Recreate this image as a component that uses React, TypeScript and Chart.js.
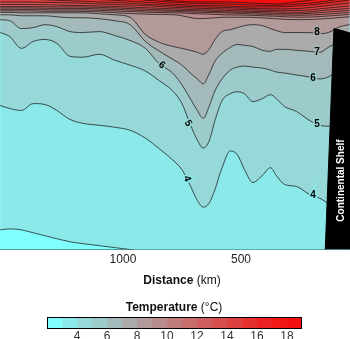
import React, { useEffect, useRef } from "react";
import { Chart, registerables } from "chart.js";

Chart.register(...registerables);

const FONT = "'Liberation Sans', Arial, Helvetica, sans-serif";

// ---- Section data: isotherm depths (m) against distance (km) ----
const distanceDetail = [1520, 1480, 1430, 1380, 1330, 1280, 1225, 1170, 1100, 1035, 970, 905, 845, 790, 750, 715, 685, 660, 635, 610, 580, 545, 515, 485, 450, 410, 375, 350, 315, 265, 210, 165, 130, 80, 40];
const isotherm3 = [2330, 2320, 2330, 2360, 2390, 2420, 2450, 2470, 2490, 2510, 2530, 2560, 2600, 2650, 2700, 2750, 2800, 2850, 2900, 2900, 2900, 2900, 2900, 2900, 2900, 2900, 2900, 2900, 2900, 2900, 2900, 2900, 2900, 2900, 2900];
const isotherm4 = [1070, 1100, 1120, 1050, 1060, 1120, 1210, 1250, 1270, 1290, 1320, 1400, 1510, 1620, 1720, 1880, 2030, 2100, 2060, 1920, 1700, 1530, 1570, 1720, 1850, 1780, 1700, 1780, 1870, 1890, 1970, 2010, 2060, 2080, 2100];
const isotherm5 = [330, 370, 490, 420, 400, 440, 570, 580, 550, 610, 660, 720, 820, 920, 1050, 1260, 1420, 1500, 1430, 1220, 1020, 950, 930, 950, 1030, 1000, 960, 1000, 1080, 1130, 1220, 1270, 1280, 1280, 1280];
const isotherm6 = [200, 210, 290, 280, 250, 270, 320, 330, 320, 360, 410, 490, 650, 740, 860, 1000, 1120, 1200, 1080, 920, 800, 710, 680, 670, 680, 690, 710, 730, 740, 760, 780, 800, 780, 710, 700];
const isotherm7 = [150, 150, 160, 160, 160, 170, 180, 180, 190, 210, 250, 420, 520, 600, 660, 740, 800, 850, 750, 620, 540, 480, 450, 460, 470, 510, 520, 500, 500, 510, 520, 530, 480, 420, 400];
const isotherm8 = [125, 125, 130, 130, 130, 130, 130, 130, 140, 150, 175, 350, 430, 470, 490, 510, 530, 550, 500, 400, 320, 300, 280, 260, 250, 260, 290, 310, 330, 330, 330, 340, 330, 270, 250];

const distanceTop = [1520, 1415, 1310, 1205, 1100, 990, 885, 780, 675, 570, 460, 355, 250, 145, 40];
const isotherm9 = [110, 110, 115, 115, 120, 135, 145, 150, 190, 175, 175, 190, 200, 190, 170];
const isotherm10 = [95, 95, 100, 100, 105, 115, 125, 130, 140, 150, 155, 165, 175, 165, 145];
const isotherm11 = [80, 80, 85, 85, 90, 100, 110, 115, 125, 130, 140, 150, 155, 145, 125];
const isotherm12 = [65, 65, 70, 70, 75, 85, 95, 105, 110, 120, 125, 135, 140, 125, 105];
const isotherm13 = [45, 45, 50, 55, 60, 70, 80, 90, 100, 105, 115, 120, 125, 105, 85];
const isotherm14 = [20, 20, 25, 30, 40, 50, 60, 75, 85, 90, 100, 105, 105, 85, 60];
const isotherm15 = [-10, -10, 0, 10, 20, 30, 45, 60, 70, 75, 85, 90, 85, 60, 30];
const isotherm16 = [-40, -40, -30, -20, -5, 10, 25, 45, 55, 60, 70, 70, 60, 35, 0];
const isotherm17 = [-70, -70, -60, -50, -30, -15, 5, 25, 35, 40, 50, 55, 40, 15, -25];
const isotherm18 = [-100, -90, -80, -70, -50, -40, -15, 10, 20, 20, 30, 40, 15, -15, -50];

const distanceTicks = [1000, 500];
const depthMax = 2530;

// continental shelf outline (top edge)
const shelfDistance = [144, 106, 88, 72, 38];
const shelfDepth = [2600, 290, 300, 310, 335];
const shelfText = "Continental Shelf";
const shelfTextDistance = 76;
const shelfTextDepth = 1830;

// contour labels
const contourLabelText = ["8", "7", "6", "5", "4", "6", "5", "4"];
const contourLabelDistance = [178, 178, 195, 178, 195, 835, 724, 729];
const contourLabelDepth = [330, 530, 790, 1260, 1980, 660, 1250, 1810];
const contourLabelAngle = [0, 0, 0, 0, 0, 35, 60, 70];

// colour scale
const tempCells = [2, 3, 4, 5, 6, 7, 8, 9, 10, 11, 12, 13, 14, 15, 16, 17, 18];
const tempTicks = [4, 6, 8, 10, 12, 14, 16, 18];
const bandColors = ["#80ffff", "#8ce9e9", "#96d9d9", "#9dcaca", "#a4baba", "#ababab", "#b39a9a", "#b98b8b", "#c07b7b", "#c86c6c", "#cf5d5d", "#d74e4e", "#de3f3f", "#e63030", "#ed2121", "#f21818", "#f51010"];

const isotherms = [
  { level: 3, dist: distanceDetail, depth: isotherm3 },
  { level: 4, dist: distanceDetail, depth: isotherm4 },
  { level: 5, dist: distanceDetail, depth: isotherm5 },
  { level: 6, dist: distanceDetail, depth: isotherm6 },
  { level: 7, dist: distanceDetail, depth: isotherm7 },
  { level: 8, dist: distanceDetail, depth: isotherm8 },
  { level: 9, dist: distanceTop, depth: isotherm9 },
  { level: 10, dist: distanceTop, depth: isotherm10 },
  { level: 11, dist: distanceTop, depth: isotherm11 },
  { level: 12, dist: distanceTop, depth: isotherm12 },
  { level: 13, dist: distanceTop, depth: isotherm13 },
  { level: 14, dist: distanceTop, depth: isotherm14 },
  { level: 15, dist: distanceTop, depth: isotherm15 },
  { level: 16, dist: distanceTop, depth: isotherm16 },
  { level: 17, dist: distanceTop, depth: isotherm17 },
  { level: 18, dist: distanceTop, depth: isotherm18 },
];

function SectionChart() {
  const ref = useRef<HTMLCanvasElement>(null);
  useEffect(() => {
    if (!ref.current) return;
    const warmFirst = [...isotherms].sort((a, b) => b.level - a.level);
    const datasets: any[] = [
      {
        label: "shelf",
        data: shelfDistance.map((d, i) => ({ x: d, y: shelfDepth[i] })),
        borderColor: "#000",
        backgroundColor: "#000",
        borderWidth: 1,
        fill: { value: 2700 },
        pointRadius: 0,
        tension: 0,
      },
      ...warmFirst.map((l) => ({
        label: String(l.level),
        data: l.dist.map((d, i) => ({ x: d, y: l.depth[i] })),
        borderColor: "rgba(20,20,20,0.9)",
        borderWidth: 0.8,
        backgroundColor: bandColors[l.level - 2],
        fill: { value: 0 },
        pointRadius: 0,
        cubicInterpolationMode: "monotone",
      })),
    ];

    const bgPlugin = {
      id: "bg",
      beforeDatasetsDraw(chart: any) {
        const { ctx, chartArea } = chart;
        ctx.save();
        ctx.fillStyle = bandColors[0];
        ctx.fillRect(chartArea.left, chartArea.top, chartArea.right - chartArea.left, chartArea.bottom - chartArea.top);
        ctx.restore();
      },
    };

    const labelPlugin = {
      id: "labels",
      afterDatasetsDraw(chart: any) {
        const { ctx } = chart;
        const x = chart.scales.x;
        const y = chart.scales.y;
        ctx.save();
        contourLabelText.forEach((t, i) => {
          const px = x.getPixelForValue(contourLabelDistance[i]);
          const py = y.getPixelForValue(contourLabelDepth[i]);
          ctx.save();
          ctx.translate(px, py);
          ctx.rotate((contourLabelAngle[i] * Math.PI) / 180);
          ctx.font = `bold 10px ${FONT}`;
          ctx.textAlign = "center";
          ctx.textBaseline = "middle";
          ctx.lineWidth = 3;
          ctx.strokeStyle = bandColors[Number(t) - 3];
          ctx.strokeText(t, 0, 0);
          ctx.fillStyle = "#000";
          ctx.fillText(t, 0, 0);
          ctx.restore();
        });
        const sx = x.getPixelForValue(shelfTextDistance);
        const sy = y.getPixelForValue(shelfTextDepth);
        ctx.translate(sx, sy);
        ctx.rotate(-Math.PI / 2);
        ctx.font = `bold 10px ${FONT}`;
        ctx.textAlign = "center";
        ctx.textBaseline = "middle";
        ctx.fillStyle = "#fff";
        ctx.fillText(shelfText, 0, 0);
        ctx.restore();
      },
    };

    const chart = new Chart(ref.current, {
      type: "line",
      data: { datasets },
      options: {
        animation: false,
        responsive: false,
        devicePixelRatio: 1,
        layout: { padding: 0 },
        plugins: { legend: { display: false }, tooltip: { enabled: false } },
        scales: {
          x: {
            type: "linear",
            reverse: true,
            min: 38,
            max: 1521,
            grid: { display: false, drawTicks: false },
            border: { display: true, color: "#000", width: 1 },
            ticks: {
              font: { family: FONT, size: 12 },
              color: "#222",
              padding: 3,
              callback: (v: any) => String(v),
            },
            afterBuildTicks: (s: any) => {
              s.ticks = distanceTicks.map((v) => ({ value: v }));
            },
          },
          y: { type: "linear", reverse: true, min: 0, max: depthMax, display: false },
        },
      } as any,
      plugins: [bgPlugin, labelPlugin],
    });
    return () => chart.destroy();
  }, []);
  return (
    <canvas
      ref={ref}
      width={350}
      height={270}
      style={{ position: "absolute", left: 0, top: 0, width: 350, height: 270 }}
    />
  );
}

function ColorBar() {
  const ref = useRef<HTMLCanvasElement>(null);
  useEffect(() => {
    if (!ref.current) return;
    const borderPlugin = {
      id: "cbBorder",
      afterDatasetsDraw(chart: any) {
        const { ctx, chartArea } = chart;
        ctx.save();
        ctx.strokeStyle = "#000";
        ctx.lineWidth = 1;
        ctx.strokeRect(
          Math.round(chartArea.left) + 0.5,
          Math.round(chartArea.top) + 0.5,
          Math.round(chartArea.right - chartArea.left) - 1,
          Math.round(chartArea.bottom - chartArea.top) - 1
        );
        ctx.restore();
      },
    };
    const chart = new Chart(ref.current, {
      type: "bar",
      data: {
        labels: ["T"],
        datasets: tempCells.map((t, i) => ({
          data: [[t, t + 1]],
          backgroundColor: bandColors[i],
          borderWidth: 0,
          barPercentage: 1,
          categoryPercentage: 1,
          grouped: false,
        })),
      },
      options: {
        indexAxis: "y",
        animation: false,
        responsive: false,
        devicePixelRatio: 1,
        layout: { padding: { left: 47, right: 48, top: 0, bottom: 0 } },
        plugins: { legend: { display: false }, tooltip: { enabled: false } },
        scales: {
          x: {
            type: "linear",
            min: 2,
            max: 19,
            grid: { display: false, drawTicks: false },
            border: { display: false },
            ticks: { font: { family: FONT, size: 12 }, color: "#333", padding: 0 },
            afterBuildTicks: (s: any) => {
              s.ticks = tempTicks.map((v) => ({ value: v }));
            },
          },
          y: { display: false },
        },
      } as any,
      plugins: [borderPlugin],
    });
    return () => chart.destroy();
  }, []);
  return (
    <canvas
      ref={ref}
      width={350}
      height={24}
      style={{ position: "absolute", left: 0, top: 317, width: 350, height: 24 }}
    />
  );
}

export default function App() {
  const titleStyle: React.CSSProperties = {
    position: "absolute",
    left: 0,
    textAlign: "center",
    fontSize: 12,
    lineHeight: "14px",
    color: "#111",
    fontFamily: FONT,
    whiteSpace: "nowrap",
  };
  return (
    <div style={{ position: "fixed", left: 0, top: 0, width: 350, height: 339, background: "#fff" }}>
      <SectionChart />
      <div style={{ ...titleStyle, top: 273, width: 364 }}>
        <b>Distance</b> (km)
      </div>
      <div style={{ ...titleStyle, top: 300, width: 348 }}>
        <b>Temperature</b> (°C)
      </div>
      <ColorBar />
    </div>
  );
}
